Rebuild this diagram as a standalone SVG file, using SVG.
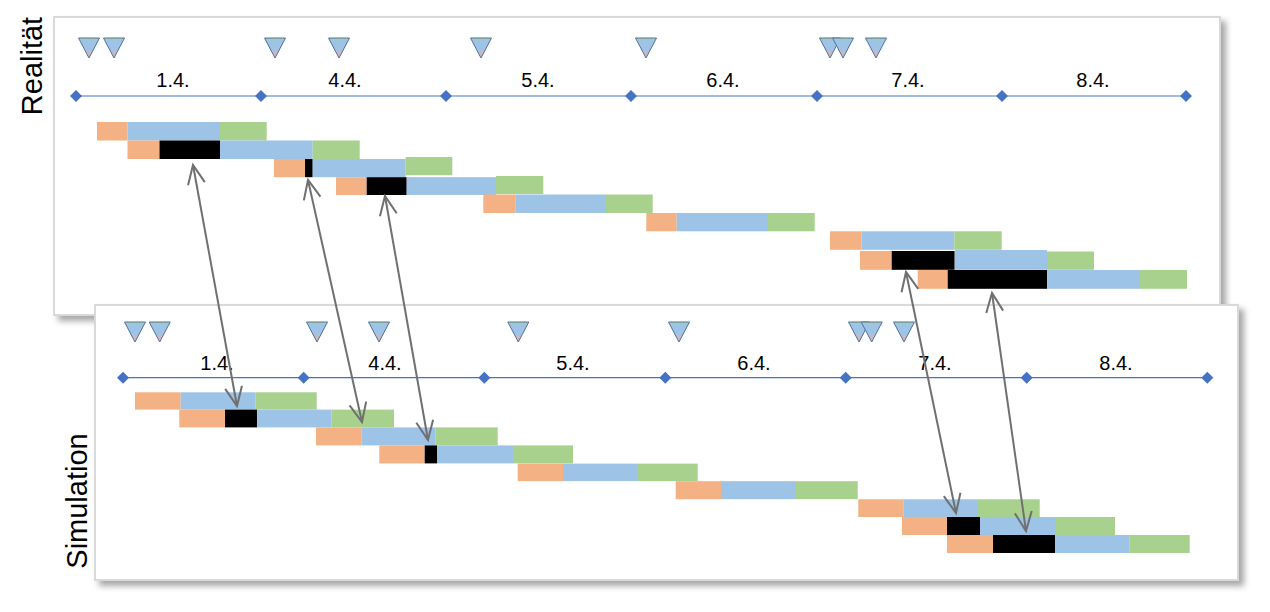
<svg xmlns="http://www.w3.org/2000/svg" width="1270" height="612" viewBox="0 0 1270 612">
<style>
.frame{fill:#fff;stroke:#d9d9d9;stroke-width:2}
.axis{stroke:#4472c4;stroke-width:1.2;fill:none}
.dia{fill:#4472c4}
.tri{fill:url(#tg);stroke:#4f6fae;stroke-width:1}
.o{fill:#f4b183}
.b{fill:#9dc3e6}
.g{fill:#a9d18e}
.k{fill:#000}
.lbl{font-family:"Liberation Sans",Arial,sans-serif;font-size:20px;fill:#000;text-anchor:middle}
.side{font-family:"Liberation Sans",Arial,sans-serif;font-size:29px;fill:#000;text-anchor:middle}
.con{stroke:#707070;stroke-width:2;fill:none;marker-start:url(#ah);marker-end:url(#ah)}
</style>
<defs>
<linearGradient id="tg" x1="0" y1="0" x2="0" y2="1">
<stop offset="0" stop-color="#a9d18e"/>
<stop offset="0.15" stop-color="#9dc3e6"/>
<stop offset="0.55" stop-color="#9dc3e6"/>
<stop offset="1" stop-color="#f4b183"/>
</linearGradient>
<filter id="sh" x="-5%" y="-5%" width="110%" height="115%">
<feDropShadow dx="5" dy="5" stdDeviation="3" flood-color="#000" flood-opacity="0.35"/>
</filter>
<marker id="ah" markerUnits="userSpaceOnUse" viewBox="-24 -12 28 24" refX="0" refY="0" markerWidth="28" markerHeight="24" orient="auto-start-reverse" overflow="visible">
<path d="M-19,-8.5 L0,0 L-19,8.5" fill="none" stroke="#707070" stroke-width="2"/>
</marker>
<path id="t" d="M-10.5,0 L10.5,0 L0,20 Z"/>
<path id="d" d="M0,-6 L6,0 L0,6 L-6,0 Z"/>
</defs>

<text class="side" transform="translate(42,66) rotate(-90)">Realität</text>
<text class="side" transform="translate(87,501) rotate(-90)">Simulation</text>

<g id="panel-realitaet">
<rect class="frame" x="54" y="17" width="1166" height="298" filter="url(#sh)"/>
<g id="r-triangles" class="tri">
<use href="#t" x="89" y="38"/><use href="#t" x="114" y="38"/><use href="#t" x="275" y="38"/><use href="#t" x="339" y="38"/><use href="#t" x="481" y="38"/><use href="#t" x="646" y="38"/><use href="#t" x="830" y="38"/><use href="#t" x="843" y="38"/><use href="#t" x="876" y="38"/>
</g>
<g id="r-axis">
<line class="axis" x1="76" y1="96" x2="1186" y2="96"/>
<g class="dia"><use href="#d" x="76" y="96"/><use href="#d" x="261" y="96"/><use href="#d" x="446" y="96"/><use href="#d" x="631" y="96"/><use href="#d" x="817" y="96"/><use href="#d" x="1002" y="96"/><use href="#d" x="1186" y="96"/></g>
<text class="lbl" x="173" y="87">1.4.</text><text class="lbl" x="345" y="87">4.4.</text><text class="lbl" x="538" y="87">5.4.</text><text class="lbl" x="723" y="87">6.4.</text><text class="lbl" x="908" y="87">7.4.</text><text class="lbl" x="1093" y="87">8.4.</text>
</g>
<g id="r-bars">
<rect class="o" x="97" y="122" width="30.5" height="18.5"/><rect class="b" x="127.5" y="122" width="92.5" height="18.5"/><rect class="g" x="220" y="122" width="46.7" height="18.5"/>
<rect class="o" x="127.5" y="140.5" width="32" height="18.5"/><rect class="k" x="159.5" y="140.5" width="60.5" height="18.5"/><rect class="b" x="220" y="140.5" width="92.7" height="18.5"/><rect class="g" x="312.7" y="140.5" width="47" height="18.5"/>
<rect class="o" x="274" y="159" width="31" height="18.2"/><rect class="k" x="305" y="159" width="7.7" height="18.2"/><rect class="b" x="312.7" y="159" width="93" height="18.2"/><rect class="g" x="405.7" y="157" width="46.6" height="18.2"/>
<rect class="o" x="336" y="177.2" width="30.7" height="17.8"/><rect class="k" x="366.7" y="177.2" width="40" height="17.8"/><rect class="b" x="406.7" y="177.2" width="89.3" height="17.8"/><rect class="g" x="496" y="176" width="47.3" height="18"/>
<rect class="o" x="483.3" y="194.5" width="32" height="18.5"/><rect class="b" x="515.3" y="194.5" width="90.7" height="18.5"/><rect class="g" x="606" y="194.5" width="46.7" height="18.5"/>
<rect class="o" x="646.3" y="213" width="30.4" height="18.3"/><rect class="b" x="676.7" y="213" width="91.3" height="18.3"/><rect class="g" x="768" y="213" width="46.7" height="18.3"/>
<rect class="o" x="830" y="231.3" width="31.7" height="18.5"/><rect class="b" x="861.7" y="231.3" width="92.6" height="18.5"/><rect class="g" x="954.3" y="231.3" width="47.4" height="18.5"/>
<rect class="o" x="860" y="251" width="31.7" height="18.8"/><rect class="k" x="891.7" y="251" width="63" height="18.8"/><rect class="b" x="954.7" y="250" width="92.3" height="19.8"/><rect class="g" x="1047" y="251.5" width="47" height="18.3"/>
<rect class="o" x="917.7" y="270" width="30" height="18.8"/><rect class="k" x="947.7" y="270" width="99.3" height="18.8"/><rect class="b" x="1047" y="270" width="93" height="18.8"/><rect class="g" x="1140" y="270" width="47" height="18.8"/>
</g>
</g>

<g id="panel-simulation">
<rect class="frame" x="95" y="305" width="1143" height="275" filter="url(#sh)"/>
<g id="s-triangles" class="tri">
<use href="#t" x="135" y="322"/><use href="#t" x="159.7" y="322"/><use href="#t" x="317" y="322"/><use href="#t" x="379" y="322"/><use href="#t" x="518.3" y="322"/><use href="#t" x="679" y="322"/><use href="#t" x="859" y="322"/><use href="#t" x="871.7" y="322"/><use href="#t" x="904" y="322"/>
</g>
<g id="s-axis">
<line class="axis" x1="123" y1="377.7" x2="1207.3" y2="377.7"/>
<g class="dia"><use href="#d" x="123" y="377.7"/><use href="#d" x="303.7" y="377.7"/><use href="#d" x="484.3" y="377.7"/><use href="#d" x="665.3" y="377.7"/><use href="#d" x="845.7" y="377.7"/><use href="#d" x="1026.7" y="377.7"/><use href="#d" x="1207.3" y="377.7"/></g>
<text class="lbl" x="217" y="370">1.4.</text><text class="lbl" x="385" y="370">4.4.</text><text class="lbl" x="573" y="370">5.4.</text><text class="lbl" x="754" y="370">6.4.</text><text class="lbl" x="935" y="370">7.4.</text><text class="lbl" x="1116" y="370">8.4.</text>
</g>
<g id="s-bars">
<rect class="o" x="135" y="392.3" width="45.7" height="17.3"/><rect class="b" x="180.7" y="392.3" width="75" height="17.3"/><rect class="g" x="255.7" y="392.3" width="61" height="17.3"/>
<rect class="o" x="179.3" y="409.6" width="45.7" height="17.8"/><rect class="k" x="225" y="409.6" width="32" height="17.8"/><rect class="b" x="257" y="409.6" width="74.7" height="17.8"/><rect class="g" x="331.7" y="409.6" width="62.3" height="17.8"/>
<rect class="o" x="316" y="427.4" width="45.3" height="18"/><rect class="b" x="361.3" y="427.4" width="74.4" height="18"/><rect class="g" x="435.7" y="427.4" width="62" height="18"/>
<rect class="o" x="379.3" y="445.4" width="45.4" height="18"/><rect class="k" x="424.7" y="445.4" width="12.3" height="18"/><rect class="b" x="437" y="445.4" width="76" height="18"/><rect class="g" x="513" y="445.4" width="60" height="18"/>
<rect class="o" x="517.7" y="463.6" width="45.3" height="17.5"/><rect class="b" x="563" y="463.6" width="75" height="17.5"/><rect class="g" x="638" y="463.6" width="59.7" height="17.5"/>
<rect class="o" x="675.7" y="481.2" width="45.3" height="18"/><rect class="b" x="721" y="481.2" width="75" height="18"/><rect class="g" x="796" y="481.2" width="61.7" height="18"/>
<rect class="o" x="858.3" y="499.3" width="45" height="17.7"/><rect class="b" x="903.3" y="499.3" width="74.7" height="17.7"/><rect class="g" x="978" y="499.3" width="61.7" height="17.7"/>
<rect class="o" x="902" y="517" width="45" height="18"/><rect class="k" x="947" y="517" width="33" height="18"/><rect class="b" x="980" y="517" width="75" height="18"/><rect class="g" x="1055" y="517" width="60" height="18"/>
<rect class="o" x="947" y="535" width="46" height="18"/><rect class="k" x="993" y="535" width="62" height="18"/><rect class="b" x="1055" y="535" width="74.7" height="18"/><rect class="g" x="1129.7" y="535" width="60" height="18"/>
</g>
</g>

<g id="connectors">
<line class="con" x1="193" y1="165" x2="237" y2="406"/>
<line class="con" x1="308" y1="180" x2="362" y2="422"/>
<line class="con" x1="385" y1="196" x2="428" y2="440"/>
<line class="con" x1="906" y1="272" x2="956" y2="513"/>
<line class="con" x1="992" y1="293" x2="1026" y2="531"/>
</g>
</svg>
